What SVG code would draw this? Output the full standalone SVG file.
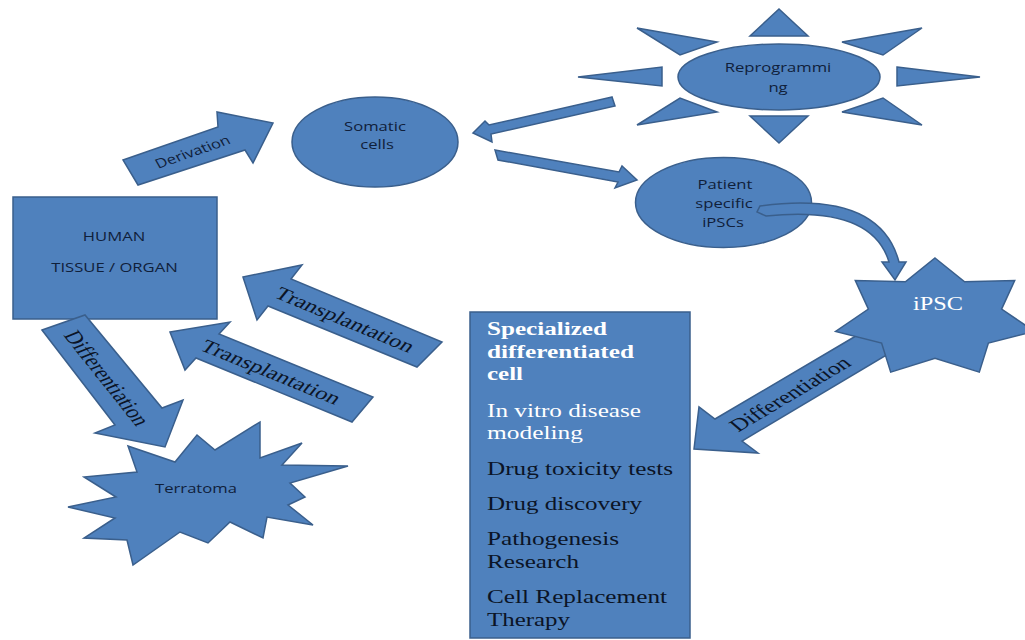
<svg xmlns="http://www.w3.org/2000/svg" width="1025" height="640" viewBox="0 0 1025 640">
<style>
.s{fill:#4F81BD;stroke:#3A5F8C;stroke-width:1.5;stroke-linejoin:miter}
.c{font-family:"Open Sans","Liberation Sans",sans-serif;font-size:13px;fill:#10203A;text-anchor:middle}
.t{font-family:"Liberation Serif","Times New Roman",serif;font-size:18px;fill:#0B1426}
.tm{font-family:"Liberation Serif","Times New Roman",serif;font-size:18px;fill:#0B1426;text-anchor:middle}
.w{fill:#FFFFFF}
.b{font-weight:bold}
</style>
<rect width="1025" height="640" fill="#FFFFFF"/>

<g id="node-human">
<rect class="s" x="13" y="197" width="204" height="122"/>
<text class="c" transform="translate(114,240.5) scale(1.28,1)">HUMAN</text>
<text class="c" transform="translate(114.5,272) scale(1.28,1)">TISSUE / ORGAN</text>
</g>

<g id="node-somatic">
<ellipse class="s" cx="375" cy="142" rx="83" ry="45"/>
<text class="c" transform="translate(375,131) scale(1.28,1)">Somatic</text>
<text class="c" transform="translate(377,149) scale(1.28,1)">cells</text>
</g>

<g id="node-reprogramming">
<polygon class="s" points="779,9 808,36 750,36"/>
<polygon class="s" points="750,116 808,116 779,143"/>
<polygon class="s" points="578,77 662,67 662,86"/>
<polygon class="s" points="897,67 980,77 897,86"/>
<polygon class="s" points="637,28 717,42 680,55"/>
<polygon class="s" points="922,28 883,55 842,42"/>
<polygon class="s" points="637,125 680,98 717,112"/>
<polygon class="s" points="842,112 883,98 922,125"/>
<ellipse class="s" cx="779" cy="77" rx="101" ry="33"/>
<text class="c" transform="translate(778,72) scale(1.28,1)">Reprogrammi</text>
<text class="c" transform="translate(778,92) scale(1.28,1)">ng</text>
</g>

<g id="node-patient">
<ellipse class="s" cx="723.5" cy="202.5" rx="88" ry="45"/>
<text class="c" transform="translate(725,189) scale(1.28,1)">Patient</text>
<text class="c" transform="translate(724,208) scale(1.28,1)">specific</text>
<text class="c" transform="translate(723,227) scale(1.28,1)">iPSCs</text>
</g>

<g id="node-applications">
<rect class="s" x="470" y="312" width="220" height="326" stroke-width="2"/>
<text class="t w b" x="487" y="335" textLength="120" lengthAdjust="spacingAndGlyphs">Specialized</text>
<text class="t w b" x="487" y="358" textLength="147" lengthAdjust="spacingAndGlyphs">differentiated</text>
<text class="t w b" x="487" y="380" textLength="36" lengthAdjust="spacingAndGlyphs">cell</text>
<text class="t w" x="487" y="416.5" textLength="154" lengthAdjust="spacingAndGlyphs">In vitro disease</text>
<text class="t w" x="487" y="438.5" textLength="96" lengthAdjust="spacingAndGlyphs">modeling</text>
<text class="t" x="487" y="475" textLength="186" lengthAdjust="spacingAndGlyphs">Drug toxicity tests</text>
<text class="t" x="487" y="510" textLength="155" lengthAdjust="spacingAndGlyphs">Drug discovery</text>
<text class="t" x="487" y="545" textLength="132" lengthAdjust="spacingAndGlyphs">Pathogenesis</text>
<text class="t" x="487" y="568" textLength="92" lengthAdjust="spacingAndGlyphs">Research</text>
<text class="t" x="487" y="603" textLength="180" lengthAdjust="spacingAndGlyphs">Cell Replacement</text>
<text class="t" x="487" y="626" textLength="83" lengthAdjust="spacingAndGlyphs">Therapy</text>
</g>

<g id="connectors">
<g id="arrow-derivation">
<polygon class="s" points="123,160 218,127 217,112 273,123 253,163 245,150 138,185"/>
<text class="c" transform="translate(195,156) scale(1.28,1) rotate(-24)">Derivation</text>
</g>
<polygon id="arrow-reprog-somatic" class="s" points="612,97 489,125 485,121 473,133 492,142 491,134 615,106"/>
<polygon id="arrow-somatic-patient" class="s" points="495,150 619,172 622,166 637,180 615,188 618,182 498,160"/>
<g id="arrow-transplant-1">
<polygon class="s" points="243,277 302,265 291,279 442,342 417,367 268,306 257,320"/>
<text class="tm" transform="translate(345,319.6) scale(1.4,1) rotate(30.1)" x="0" y="6" textLength="112" lengthAdjust="spacingAndGlyphs">Transplantation</text>
</g>
<g id="arrow-transplant-2">
<polygon class="s" points="170,332 230,322 219,334 373,397 352,422 196,358 185,370"/>
<text class="tm" transform="translate(271,372) scale(1.4,1) rotate(29.8)" x="0" y="6" textLength="112" lengthAdjust="spacingAndGlyphs">Transplantation</text>
</g>
<g id="arrow-differentiation-1">
<polygon class="s" points="42,330 85,315 162,408 183,400 165,447 95,433 115,425"/>
<text class="tm" transform="translate(107,378) scale(1.4,1) rotate(60.3)" x="0" y="6" textLength="106" lengthAdjust="spacingAndGlyphs">Differentiation</text>
</g>
<g id="arrow-differentiation-2">
<polygon class="s" points="866,330 715,419 699,407 694,449 758,453 742,441 895,350"/>
<text class="tm" transform="translate(790,394) scale(1.4,1) rotate(-39.7)" x="0" y="6" textLength="106" lengthAdjust="spacingAndGlyphs">Differentiation</text>
</g>
</g>

<g id="node-ipsc">
<polygon class="s" points="935,258 964.6,281.8 1014.7,280.6 1001.6,309.1 1034.4,331.4 988.4,343.1 979.3,372.1 935,358.2 890.7,372.1 881.6,343.1 835.6,331.4 868.4,309.1 855.3,280.6 905.4,281.8"/>
<text class="tm w" x="938" y="310" font-size="17" textLength="50" lengthAdjust="spacingAndGlyphs">iPSC</text>
</g>

<g id="node-terratoma">
<polygon class="s" points="128,446 175,462 197,435 215,450 260,422 260,458 302,443 282,465 348,466 290,483 305,497 288,505 313,525 267,517 263,538 230,522 208,543 180,532 133,565 127,540 84,538 115,518 68,507 116,497 84,477 137,472"/>
<text class="c" transform="translate(196,493) scale(1.28,1)">Terratoma</text>
</g>

<g id="connector-curved">
<path class="s" d="M760,206 Q880,190 899,262 L906,262 L895,280 L882,262 L889,262 Q872,205 766,216 L757,212 Z"/>
</g>
</svg>
